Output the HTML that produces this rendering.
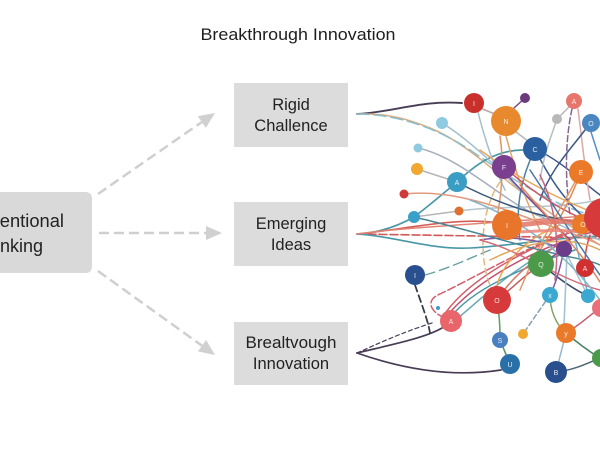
<!DOCTYPE html>
<html><head><meta charset="utf-8"><style>
html,body{margin:0;padding:0;background:#fff;}
body{width:600px;height:451px;overflow:hidden;}
svg{display:block;}
text{font-family:"Liberation Sans",sans-serif;}
</style></head><body>
<svg width="600" height="451" viewBox="0 0 600 451" xmlns="http://www.w3.org/2000/svg">
<rect width="600" height="451" fill="#ffffff"/>
<text x="298" y="40" font-size="16.5" fill="#1e1e1e" text-anchor="middle" textLength="195" lengthAdjust="spacingAndGlyphs">Breakthrough Innovation</text>

<!-- left box -->
<rect x="-12" y="192" width="104" height="81" rx="6" fill="#d9d9d9"/>
<text x="-43" y="227" font-size="18" fill="#222" textLength="107" lengthAdjust="spacingAndGlyphs">Conventional</text>
<text x="-25" y="252" font-size="18" fill="#222" textLength="68" lengthAdjust="spacingAndGlyphs">Thinking</text>

<!-- middle boxes -->
<rect x="234" y="83" width="114" height="64" fill="#dcdcdc"/>
<text x="291" y="110" font-size="16.5" fill="#222" text-anchor="middle">Rigid</text>
<text x="291" y="131" font-size="16.5" fill="#222" text-anchor="middle">Challence</text>
<rect x="234" y="202" width="114" height="64" fill="#dcdcdc"/>
<text x="291" y="229" font-size="16.5" fill="#222" text-anchor="middle">Emerging</text>
<text x="291" y="250" font-size="16.5" fill="#222" text-anchor="middle">Ideas</text>
<rect x="234" y="322" width="114" height="63" fill="#dcdcdc"/>
<text x="291" y="348" font-size="16.5" fill="#222" text-anchor="middle" textLength="91" lengthAdjust="spacingAndGlyphs">Brealtvough</text>
<text x="291" y="369" font-size="16.5" fill="#222" text-anchor="middle">Innovation</text>

<!-- dashed arrows -->
<g stroke="#cfcfcf" stroke-width="2.5" stroke-dasharray="10,5" fill="none">
<line x1="98" y1="194" x2="201.8" y2="122.1"/>
<line x1="99" y1="233" x2="206" y2="233"/>
<line x1="98" y1="271" x2="202" y2="345.7"/>
</g>
<g fill="#d0d0d0">
<polygon points="215,113 205.8,127.9 197.8,116.3"/>
<polygon points="222,233 206,226 206,240"/>
<polygon points="215,355 197.9,351.4 206.1,340"/>
</g>

<!-- network lines -->
<g fill="none" stroke-width="1.5" stroke-linecap="round" opacity="0.92">
<path d="M357,114 C395,112 420,100 462,103" stroke="#3a2d48" stroke-width="1.9"/>
<path d="M357,114 C390,113 410,120 430,128 S470,150 500,175 S560,220 600,245" stroke="#d9a574"/>
<path d="M357,114 C400,114 440,130 470,150 S540,200 590,215" stroke="#7fb8c8" stroke-dasharray="12,5"/>
<path d="M357,234 C378,233 398,226 414,217" stroke="#3a8fa0" stroke-width="1.7"/>
<path d="M414,217 C430,205 445,192 457,182" stroke="#3a8fa0" stroke-width="1.7"/>
<path d="M457,182 C475,165 495,150 523,150" stroke="#3a8fa0" stroke-width="1.7"/>
<path d="M357,234 C400,230 450,218 492,222" stroke="#d0504a" stroke-width="1.6"/>
<path d="M357,234 L600,238" stroke="#d04a4a" stroke-width="1.6" stroke-dasharray="8,3"/>
<path d="M357,234 C400,237 430,250 470,248 S550,238 600,236" stroke="#3a8fa0" stroke-width="1.6"/>
<path d="M357,234 C400,228 460,225 600,215" stroke="#e07a6a"/>
<path d="M414,217 L459,211" stroke="#b0b0b0"/>
<path d="M459,211 C500,205 550,210 600,200" stroke="#b0c0c8"/>
<path d="M357,353 C390,345 425,338 442,328" stroke="#3a2d48" stroke-width="1.7"/>
<path d="M357,353 C375,345 400,333 435,322" stroke="#3a2d48" stroke-width="1.2" stroke-dasharray="4,3"/>
<path d="M357,353 C400,368 450,378 501,370" stroke="#3a2d48" stroke-width="1.7"/>
<path d="M415,285 C420,300 428,320 430,333" stroke="#2a2a3a" stroke-width="1.8" stroke-dasharray="7,4"/>
<path d="M425,275 C450,268 470,258 490,250" stroke="#5a9a98" stroke-width="1.4" stroke-dasharray="10,5"/>
<path d="M446,312 C470,280 520,250 590,225" stroke="#d05060"/>
<path d="M452,310 C480,280 530,250 592,232" stroke="#c04060"/>
<path d="M445,318 C430,312 425,300 440,294 C470,280 530,245 585,225" stroke="#d05060" stroke-dasharray="8,3"/>
<path d="M458,318 C480,300 520,260 580,235" stroke="#5aa0b0"/>
<path d="M455,312 C480,285 530,265 575,250" stroke="#3a8fa0"/>
<path d="M497,300 C510,290 525,275 541,264" stroke="#c05050"/>
<path d="M497,300 C500,320 500,330 500,340" stroke="#5a9a5a" stroke-width="1.6"/>
<path d="M500,340 L510,364" stroke="#4a8a5a" stroke-width="1.6"/>
<path d="M497,286 C500,270 520,240 560,225" stroke="#e8a040"/>
<path d="M505,289 C520,270 550,245 590,230" stroke="#d07060"/>
<path d="M541,264 C560,280 575,290 588,296" stroke="#2a3a5a" stroke-width="1.5"/>
<path d="M541,264 L564,249" stroke="#6a3d8a"/>
<path d="M564,249 L588,296" stroke="#a0c0d0"/>
<path d="M564,249 C560,270 555,285 550,295" stroke="#7a4a9a"/>
<path d="M567,253 L564,325" stroke="#9ac0d0" stroke-width="1.6"/>
<path d="M564,249 C540,240 510,235 480,240" stroke="#7a4a9a"/>
<path d="M550,295 L523,334" stroke="#7a9ab0" stroke-dasharray="5,3"/>
<path d="M550,295 C550,310 556,325 566,333" stroke="#7a9a5a"/>
<path d="M566,333 L556,372" stroke="#8ab0c8" stroke-width="1.5"/>
<path d="M566,333 C580,325 590,315 600,308" stroke="#c05060"/>
<path d="M566,333 C580,345 590,352 600,358" stroke="#3a7a5a"/>
<path d="M556,372 C575,370 590,362 600,358" stroke="#3a5a6a"/>
<path d="M480,108 L495,114" stroke="#b0a0a0"/>
<path d="M514,108 L525,98" stroke="#6b3a7d"/>
<path d="M516,132 L528,141" stroke="#b0b0b0"/>
<path d="M478,112 C485,140 495,170 505,190" stroke="#a0b8c8"/>
<path d="M506,136 C515,170 525,200 540,230" stroke="#e0a060"/>
<path d="M500,136 C505,170 500,200 498,212" stroke="#e08a50"/>
<path d="M442,123 C470,140 500,170 530,200 S570,230 600,240" stroke="#9ab8c8"/>
<path d="M418,148 C450,155 480,180 510,200 S560,225 600,228" stroke="#a0a8b8"/>
<path d="M417,169 L457,182" stroke="#b0b0b0"/>
<path d="M404,194 C440,190 480,200 520,215 S580,235 600,245" stroke="#e09070"/>
<path d="M457,182 C490,200 540,220 600,225" stroke="#2a4a6a" stroke-width="1.5"/>
<path d="M535,149 C550,180 570,210 600,230" stroke="#2a4f8a" stroke-width="1.5"/>
<path d="M535,149 C520,180 515,210 520,240" stroke="#3a7a9a"/>
<path d="M535,149 C560,160 580,180 600,195" stroke="#2a4a7a"/>
<path d="M557,119 C550,140 545,150 540,180" stroke="#b0b8c0"/>
<path d="M557,119 L570,106" stroke="#b0b0b0"/>
<path d="M572,109 C565,140 565,180 570,215" stroke="#7a5a8a" stroke-dasharray="6,3" stroke-width="1.5"/>
<path d="M578,109 C582,140 585,170 590,200" stroke="#d8a0a0"/>
<path d="M585,130 C570,150 550,170 540,200" stroke="#2a4a7a"/>
<path d="M591,132 L600,160" stroke="#4a86c0"/>
<path d="M504,167 C530,190 560,210 590,222" stroke="#c04a5a"/>
<path d="M510,178 C530,200 550,220 570,240" stroke="#6a3d8a"/>
<path d="M581,172 C570,200 560,220 540,250" stroke="#e08040"/>
<path d="M575,182 C560,210 540,240 520,290" stroke="#e09060"/>
<path d="M480,150 C520,180 560,200 600,215" stroke="#e8a050"/>
<path d="M500,182 C480,210 478,260 492,290" stroke="#e0b070" stroke-dasharray="6,4"/>
<path d="M414,217 C450,225 500,240 540,250 S590,260 600,265" stroke="#3a7a8a"/>
<path d="M575,240 L587,290" stroke="#5ab0d0"/>
<path d="M590,235 C585,250 585,260 585,262" stroke="#d04040"/>
<path d="M480,240 C520,250 560,280 600,290" stroke="#d06070"/>
<path d="M490,260 C530,240 570,235 600,250" stroke="#e0a050"/>
<path d="M530,170 C550,200 575,240 600,275" stroke="#3a6aa0"/>
<path d="M520,185 C545,215 580,250 600,282" stroke="#e07a50"/>
<path d="M470,200 C510,215 560,245 600,300" stroke="#7ab0c0"/>
<path d="M540,175 C555,205 560,240 555,280" stroke="#c05a7a"/>
<path d="M520,225 C545,222 560,220 575,222" stroke="#e06a5a" stroke-width="5" opacity="0.85"/>
<path d="M520,232 C550,230 565,230 580,232" stroke="#e87a70" stroke-width="3" opacity="0.85"/>
</g>

<!-- nodes -->
<g>
<circle cx="474" cy="103" r="10" fill="#c9302c"/>
<circle cx="525" cy="98" r="5" fill="#6b3a7d"/>
<circle cx="506" cy="121" r="15" fill="#e8892e"/>
<circle cx="574" cy="101" r="8" fill="#e8756a"/>
<circle cx="557" cy="119" r="5" fill="#b8b8b8"/>
<circle cx="591" cy="123" r="9" fill="#4a86c0"/>
<circle cx="442" cy="123" r="6" fill="#8ecae0"/>
<circle cx="418" cy="148" r="4.5" fill="#8ecae0"/>
<circle cx="535" cy="149" r="12" fill="#2a5fa0"/>
<circle cx="504" cy="167" r="12" fill="#7a3f8f"/>
<circle cx="581" cy="172" r="12" fill="#ea7a2a"/>
<circle cx="417" cy="169" r="6" fill="#f0a830"/>
<circle cx="457" cy="182" r="10" fill="#3a9ec4"/>
<circle cx="404" cy="194" r="4.5" fill="#d03a3a"/>
<circle cx="459" cy="211" r="4.5" fill="#e07030"/>
<circle cx="414" cy="217" r="6" fill="#3aa0c8"/>
<circle cx="507" cy="225" r="15" fill="#e8752a"/>
<circle cx="582" cy="224" r="10" fill="#ea7a2a"/>
<circle cx="604" cy="218" r="20" fill="#d63a3a"/>
<circle cx="564" cy="249" r="8" fill="#6a3d8a"/>
<circle cx="541" cy="264" r="13" fill="#4a9a4a"/>
<circle cx="585" cy="268" r="9" fill="#d03030"/>
<circle cx="415" cy="275" r="10" fill="#2a4f8e"/>
<circle cx="497" cy="300" r="14" fill="#d63a3a"/>
<circle cx="451" cy="321" r="11" fill="#e8666a"/>
<circle cx="438" cy="308" r="2" fill="#3a9ec4"/>
<circle cx="550" cy="295" r="8" fill="#3aa8d0"/>
<circle cx="588" cy="296" r="7" fill="#3aa8d0"/>
<circle cx="601" cy="308" r="9" fill="#e8707a"/>
<circle cx="523" cy="334" r="5" fill="#f0a830"/>
<circle cx="500" cy="340" r="8" fill="#4a80c0"/>
<circle cx="510" cy="364" r="10" fill="#2a70a8"/>
<circle cx="566" cy="333" r="10" fill="#ea7a2a"/>
<circle cx="556" cy="372" r="11" fill="#2a4f8e"/>
<circle cx="601" cy="358" r="9" fill="#4a9a4a"/>
</g>
<g fill="#ffffff" font-size="7" text-anchor="middle" opacity="0.85">
<text x="474" y="106">I</text>
<text x="506" y="124">N</text>
<text x="574" y="104">A</text>
<text x="591" y="126">O</text>
<text x="535" y="152">C</text>
<text x="504" y="170">F</text>
<text x="581" y="175">E</text>
<text x="457" y="185">A</text>
<text x="507" y="228">I</text>
<text x="583" y="227">O</text>
<text x="541" y="267">Q</text>
<text x="585" y="271">A</text>
<text x="415" y="278">I</text>
<text x="497" y="303">O</text>
<text x="451" y="324">A</text>
<text x="550" y="298">x</text>
<text x="500" y="343">S</text>
<text x="510" y="367">U</text>
<text x="566" y="336">y</text>
<text x="556" y="375">B</text>
</g>
</svg>
</body></html>
